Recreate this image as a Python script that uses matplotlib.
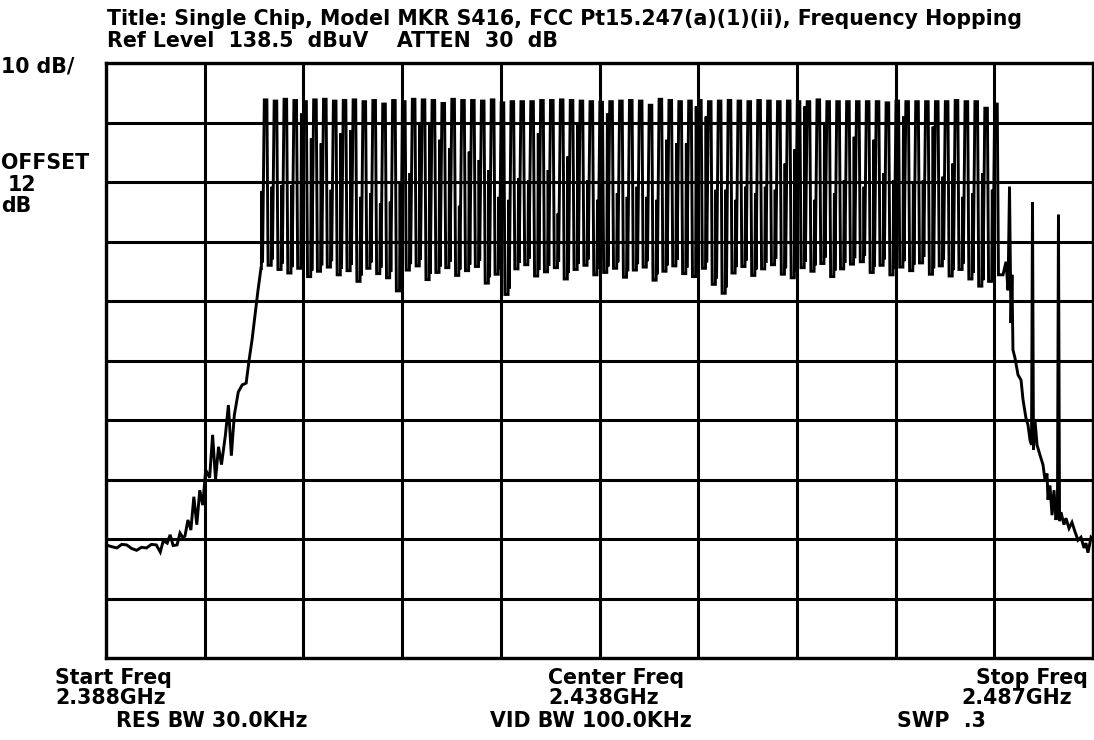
import matplotlib
matplotlib.use("Agg")
import matplotlib.pyplot as plt
import numpy as np

# ---------------- data ----------------
REF_LEVEL_DBUV = 138.5
DB_PER_DIV = 10
N_DIV = 10
START_MHZ = 2387.8
STOP_MHZ = 2487.8

# hopping channel centres (MHz)
channels_mhz = [2404, 2405, 2406, 2407, 2408, 2409, 2410, 2411, 2412, 2413,
                2414, 2415, 2416, 2417, 2418, 2419, 2420, 2421, 2422, 2423,
                2424, 2425, 2426, 2427, 2428, 2429, 2430, 2431, 2432, 2433,
                2434, 2435, 2436, 2437, 2438, 2439, 2440, 2441, 2442, 2443,
                2444, 2445, 2446, 2447, 2448, 2449, 2450, 2451, 2452, 2453,
                2454, 2455, 2456, 2457, 2458, 2459, 2460, 2461, 2462, 2463,
                2464, 2465, 2466, 2467, 2468, 2469, 2470, 2471, 2472, 2473,
                2474, 2475, 2476, 2477, 2478]

# peak level of each hop (dBuV)
peak_dbuv = [132.3, 132.1, 132.4, 132.2, 132.0, 132.3, 132.4, 132.1, 132.2, 132.3,
             132.0, 132.2, 131.6, 132.2, 132.0, 132.4, 132.3, 132.2, 131.7, 132.4,
             132.2, 132.2, 132.1, 132.3, 131.8, 132.0, 132.0, 132.0, 132.2, 132.2,
             132.3, 132.2, 132.1, 132.0, 131.9, 132.0, 132.1, 132.2, 132.1, 131.4,
             132.4, 132.2, 132.0, 132.1, 132.2, 132.0, 132.1, 132.2, 132.1, 132.0,
             132.2, 132.1, 132.0, 132.1, 132.0, 132.0, 132.3, 132.0, 132.0, 132.0,
             132.0, 132.0, 132.0, 131.8, 132.1, 132.0, 132.0, 132.0, 132.0, 132.0,
             132.2, 132.0, 132.0, 130.9, 131.6]

# shoulder level just before each hop (dBuV)
pre_dbuv = [117.0, 117.7, 118.0, 118.0, 130.0, 125.8, 125.0, 117.2, 126.7, 127.2,
            116.0, 116.6, 114.9, 115.2, 118.3, 120.0, 128.4, 128.4, 125.6, 124.2,
            114.5, 123.6, 122.2, 120.5, 116.0, 115.5, 119.1, 118.8, 126.7, 120.5,
            113.2, 122.8, 128.4, 118.8, 115.5, 130.0, 116.6, 116.0, 117.7, 116.0,
            115.5, 125.6, 125.0, 125.0, 131.2, 129.5, 117.2, 117.2, 115.5, 117.7,
            116.6, 117.7, 117.2, 121.6, 124.0, 131.2, 115.5, 128.4, 116.6, 118.8,
            126.1, 117.7, 125.6, 120.0, 118.8, 129.5, 118.3, 118.8, 127.8, 119.4,
            121.6, 116.0, 116.6, 120.0, 117.2]

# trace floor right after each hop (dBuV)
valley_dbuv = [104.5, 103.8, 103.2, 104.0, 102.6, 103.5, 104.2, 102.9, 103.6, 101.8,
               104.0, 103.1, 102.4, 100.2, 103.7, 104.4, 102.1, 103.3, 104.1, 102.8,
               103.6, 104.3, 101.5, 103.0, 99.6, 103.9, 104.6, 102.7, 103.4, 104.1,
               102.2, 103.8, 104.5, 102.9, 103.3, 104.0, 102.5, 103.7, 104.2, 102.0,
               103.5, 104.4, 103.1, 102.6, 104.0, 101.3, 99.8, 103.2, 104.3, 102.8,
               103.9, 104.6, 103.0, 102.4, 104.1, 103.5, 104.8, 102.6, 103.9, 104.7,
               105.1, 103.3, 104.5, 102.9, 104.2, 103.6, 104.9, 103.0, 104.4, 102.7,
               103.8, 102.2, 101.0, 101.8, 102.9]

# lower band edge skirt
left_skirt_mhz = [2387.8, 2388.4, 2388.9, 2389.4, 2389.9, 2390.4, 2390.9, 2391.4, 2391.9,
                  2392.4, 2392.9, 2393.3, 2393.6, 2394.0, 2394.3, 2394.6, 2395.0, 2395.3,
                  2395.6, 2395.8, 2396.1, 2396.4, 2396.7, 2397.0, 2397.3, 2397.6, 2397.9,
                  2398.3, 2398.6, 2398.9, 2399.2, 2399.5, 2399.9, 2400.2, 2400.5, 2400.8,
                  2401.2, 2401.6, 2402.0, 2402.3, 2402.6, 2402.9, 2403.2, 2403.5]
left_skirt_dbuv = [57.5, 57.2, 57.0, 57.6, 57.5, 56.9, 56.6, 57.1, 57.0,
                   57.6, 57.5, 56.3, 58.2, 57.8, 59.2, 57.4, 57.5, 59.5,
                   58.7, 59.0, 61.7, 60.0, 65.6, 60.9, 66.7, 64.2, 70.1,
                   68.8, 76.0, 68.5, 74.0, 71.0, 76.0, 81.0, 72.5, 79.3,
                   83.2, 84.4, 84.7, 88.6, 92.0, 96.1, 100.3, 104.0]

# upper band edge skirt
right_skirt_mhz = [2478.68, 2478.99, 2479.19, 2479.34, 2479.49, 2479.59, 2479.69, 2479.90,
                   2480.20, 2480.51, 2480.71, 2481.01, 2481.21, 2481.42, 2481.57, 2481.67,
                   2481.77, 2481.92, 2482.13, 2482.43, 2482.73, 2482.94, 2483.14, 2483.24,
                   2483.44, 2483.65, 2483.85, 2484.05, 2484.20, 2484.30, 2484.41, 2484.56,
                   2484.86, 2485.06, 2485.37, 2485.67, 2485.98, 2486.28, 2486.58, 2486.89,
                   2487.09, 2487.29, 2487.60, 2487.80]
right_skirt_dbuv = [102.9, 105.1, 100.3, 117.7, 94.8, 102.9, 90.3, 88.9,
                    86.1, 85.2, 81.9, 78.8, 77.7, 75.1, 74.3, 115.1,
                    73.5, 78.5, 74.3, 72.6, 71.0, 68.4, 69.5, 65.1,
                    67.5, 62.5, 66.7, 61.7, 64.2, 113.0, 61.5, 63.0,
                    60.9, 62.0, 60.3, 61.3, 59.7, 58.3, 58.8, 57.0,
                    57.8, 56.2, 58.8, 58.5]

# ---------------- build trace ----------------
xs = list(left_skirt_mhz)
ys = list(left_skirt_dbuv)
prev_v = left_skirt_dbuv[-1]
for f, pk, pre, v in zip(channels_mhz, peak_dbuv, pre_dbuv, valley_dbuv):
    xs += [f - 0.46, f - 0.40, f - 0.34, f - 0.16, f + 0.10, f + 0.22]
    ys += [prev_v, pre, prev_v + 1.0, pk, pk, v]
    prev_v = v
xs += right_skirt_mhz
ys += right_skirt_dbuv

# ---------------- figure ----------------
W, H = 1094, 740
fig = plt.figure(figsize=(W / 100, H / 100), dpi=100)
fig.patch.set_facecolor("white")
ax = fig.add_axes([106 / W, 1 - 658 / H, 987 / W, 595 / H])
ax.set_xlim(START_MHZ, STOP_MHZ)
bottom = REF_LEVEL_DBUV - DB_PER_DIV * N_DIV
ax.set_ylim(bottom, REF_LEVEL_DBUV)
ax.set_xticks(np.linspace(START_MHZ, STOP_MHZ, N_DIV + 1))
ax.set_yticks(np.linspace(bottom, REF_LEVEL_DBUV, N_DIV + 1))
ax.grid(True, color="black", linewidth=2.2)
ax.tick_params(length=0, labelbottom=False, labelleft=False)
for s in ax.spines.values():
    s.set_linewidth(2.4)
    s.set_color("black")
ax.plot(xs, ys, color="black", linewidth=2.1, solid_joinstyle="miter")

FONT = ["DejaVu Sans"]


def put(x, y, s, ha="left", size=14.8):
    fig.text(x / W, 1 - y / H, s, ha=ha, va="baseline", fontsize=size,
             fontweight="bold", family=FONT, color="black")


put(107, 25, "Title: Single Chip, Model MKR S416, FCC Pt15.247(a)(1)(ii), Frequency Hopping")
put(107, 47, "Ref Level  138.5  dBuV    ATTEN  30  dB")
put(1, 72, "10 dB/")
put(1, 169, "OFFSET")
put(8, 191, "12")
put(1, 212, "dB")
put(55, 684, "Start Freq")
put(55, 704, "2.388GHz")
put(116, 727, "RES BW 30.0KHz")
put(548, 684, "Center Freq")
put(548, 704, "2.438GHz")
put(490, 727, "VID BW 100.0KHz")
put(1088, 684, "Stop Freq", ha="right")
put(1072, 704, "2.487GHz", ha="right")
put(897, 727, "SWP  .3")

fig.savefig("out.png", dpi=100, facecolor="white")
